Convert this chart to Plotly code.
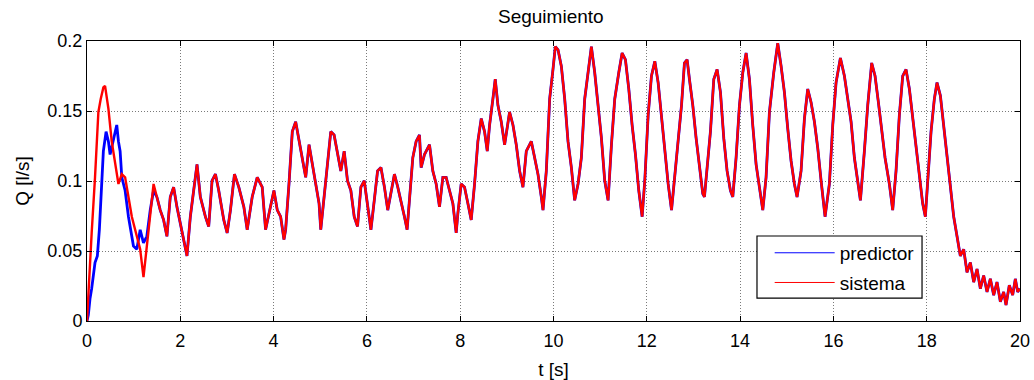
import plotly.graph_objects as go

# --- data ---
# early transient part, where the two series differ (t in s, Q in l/s)
sistema_early_t = [0.0, 0.029, 0.065, 0.100, 0.172, 0.208, 0.244, 0.294, 0.351, 0.387, 0.459, 0.530,
                   0.602, 0.674, 0.746, 0.817, 0.889, 0.961, 1.068, 1.140, 1.211, 1.283, 1.355, 1.427]
sistema_early_q = [0.0, 0.0196, 0.0336, 0.0629, 0.1026, 0.1306, 0.1493, 0.1586, 0.1668, 0.168, 0.1516, 0.1283,
                   0.1119, 0.0979, 0.1049, 0.1026, 0.0886, 0.0745, 0.0605, 0.0512, 0.0313, 0.0535, 0.0745, 0.0979]

predictor_early_t = [0.0, 0.029, 0.065, 0.100, 0.172, 0.222, 0.265, 0.315, 0.351, 0.409, 0.459, 0.495,
                     0.566, 0.638, 0.674, 0.710, 0.746, 0.817, 0.889, 0.996, 1.068, 1.140, 1.211, 1.283,
                     1.355, 1.427]
predictor_early_q = [0.0, 0.0044, 0.0161, 0.0231, 0.0418, 0.0465, 0.0652, 0.0932, 0.1213, 0.1353, 0.1283, 0.1189,
                     0.1306, 0.1400, 0.1283, 0.1213, 0.1026, 0.0932, 0.0745, 0.0535, 0.0512, 0.0652, 0.0558, 0.0605,
                     0.0792, 0.0932]

# part where predictor and sistema overlap
common_t = [1.498, 1.570, 1.642, 1.713, 1.785, 1.857, 1.928, 2.000, 2.072, 2.143, 2.215, 2.323, 2.358, 2.430,
            2.538, 2.609, 2.681, 2.753, 2.824, 2.932, 3.004, 3.075, 3.161, 3.254, 3.362, 3.434, 3.541, 3.649,
            3.756, 3.828, 3.900, 4.007, 4.079, 4.151, 4.222, 4.258, 4.330, 4.401, 4.473, 4.545, 4.616, 4.688,
            4.760, 4.832, 4.903, 4.975, 5.011, 5.082, 5.154, 5.226, 5.297, 5.369, 5.441, 5.513, 5.584, 5.656,
            5.728, 5.799, 5.871, 5.943, 6.014, 6.086, 6.158, 6.229, 6.301,
            6.376, 6.447, 6.519, 6.590, 6.662, 6.733, 6.805, 6.862, 6.912, 6.984, 7.055, 7.127, 7.163, 7.234,
            7.342, 7.413, 7.485, 7.556, 7.628, 7.699, 7.771, 7.843, 7.914, 7.950, 8.021, 8.093, 8.165, 8.236,
            8.308, 8.379, 8.451, 8.522, 8.580, 8.630, 8.701, 8.751, 8.809, 8.880, 8.952, 9.059, 9.131, 9.202,
            9.274, 9.345, 9.417, 9.524, 9.596, 9.667, 9.739, 9.775, 9.846, 9.918, 9.989, 10.039, 10.097, 10.168,
            10.240, 10.311, 10.383, 10.454, 10.526, 10.597, 10.669, 10.741, 10.812, 10.884, 10.955, 11.027,
            11.098, 11.170, 11.242, 11.313, 11.399, 11.471, 11.542, 11.614, 11.685, 11.757, 11.828, 11.900,
            11.957, 12.029, 12.100, 12.172, 12.243, 12.315, 12.386, 12.458, 12.530, 12.601, 12.673, 12.744,
            12.807, 12.864, 12.914, 12.986, 13.057, 13.129, 13.200, 13.236, 13.293, 13.364, 13.436, 13.507,
            13.579, 13.650, 13.721, 13.793, 13.843, 13.914, 13.986, 14.057, 14.129, 14.200, 14.271, 14.343,
            14.414, 14.486, 14.557, 14.629, 14.721, 14.807, 14.879, 14.950, 15.021, 15.093, 15.164, 15.221,
            15.307, 15.379, 15.450, 15.521, 15.593, 15.664, 15.736, 15.821, 15.914, 15.986, 16.057, 16.150,
            16.236, 16.307, 16.379, 16.450, 16.521, 16.579, 16.664, 16.736, 16.821, 16.893, 16.964, 17.036,
            17.107, 17.200, 17.271, 17.343, 17.414, 17.486, 17.557, 17.629, 17.700, 17.771, 17.843, 17.914,
            17.971, 18.021, 18.093, 18.164, 18.221, 18.293, 18.364, 18.436, 18.507, 18.579, 18.650, 18.721,
            18.793, 18.864, 18.936, 19.007, 19.079, 19.150, 19.221, 19.293, 19.364, 19.436, 19.507, 19.579,
            19.650, 19.700, 19.771, 19.843, 19.900, 19.950, 20.0]
common_q = [0.0886, 0.0792, 0.0722, 0.0605, 0.0886, 0.0956, 0.0815, 0.0699, 0.0605, 0.0465, 0.0745, 0.1049,
            0.1119, 0.0886, 0.0745, 0.0675, 0.1002, 0.1049, 0.0932, 0.0722, 0.0629, 0.0792, 0.1049, 0.0956,
            0.0815, 0.0652, 0.0886, 0.1026, 0.0956, 0.0652, 0.0769, 0.0932, 0.0792, 0.0745, 0.0582, 0.0652,
            0.0979, 0.1353, 0.1423, 0.1283, 0.1166, 0.1026, 0.1259, 0.1119, 0.0956, 0.0839, 0.0652, 0.0886,
            0.1119, 0.1353, 0.1329, 0.1189, 0.1072, 0.1213, 0.1002, 0.0932, 0.0745, 0.0675, 0.0956, 0.1002,
            0.0839, 0.0652, 0.0862, 0.1072, 0.1096,
            0.0956, 0.0792, 0.0932, 0.1049, 0.0956, 0.0862, 0.0745, 0.0652, 0.0839, 0.1166, 0.1283, 0.1329,
            0.1096, 0.1189, 0.1259, 0.1072, 0.0979, 0.0815, 0.1026, 0.1026, 0.0932, 0.0839, 0.0629, 0.0769,
            0.0979, 0.0956, 0.0839, 0.0722, 0.0979, 0.1283, 0.1446, 0.1353, 0.1213, 0.1400, 0.1586, 0.1727,
            0.1540, 0.1423, 0.1259, 0.1493, 0.1400, 0.1259, 0.1072, 0.0956, 0.1213, 0.1283, 0.1166, 0.1049,
            0.0886, 0.0792, 0.1072, 0.1586, 0.1797, 0.1960, 0.1937, 0.1820, 0.1586, 0.1283, 0.1096, 0.0862,
            0.0979, 0.1166, 0.1586, 0.1797, 0.1960, 0.1773, 0.1540, 0.1306, 0.1002, 0.0862, 0.1259, 0.1586,
            0.1773, 0.1914, 0.1867, 0.1657, 0.1400, 0.1189, 0.0932, 0.0745, 0.1002, 0.1470, 0.1750, 0.1855,
            0.1703, 0.1446, 0.1236, 0.0979, 0.0792, 0.1026, 0.1306, 0.1540,
            0.1843, 0.1867, 0.1727, 0.1540, 0.1306, 0.1096, 0.0909, 0.0886, 0.1072, 0.1353, 0.1727, 0.1797,
            0.1633, 0.1306, 0.1072, 0.0932, 0.0886, 0.1166, 0.1540, 0.1773, 0.1914, 0.1727, 0.1400, 0.1119,
            0.0956, 0.0792, 0.1026, 0.1493, 0.1773, 0.1984, 0.1820, 0.1633, 0.1376, 0.1143, 0.0979, 0.0886,
            0.1072, 0.1446, 0.1657, 0.1563, 0.1423, 0.1236, 0.1002, 0.0745, 0.0979, 0.1400, 0.1703, 0.1879,
            0.1750, 0.1586, 0.1423, 0.1166, 0.0979, 0.0862, 0.1213, 0.1540, 0.1843, 0.1750, 0.1563, 0.1353,
            0.1166, 0.0979, 0.0792, 0.1072, 0.1470, 0.1750, 0.1797, 0.1657, 0.1446, 0.1236, 0.1026, 0.0839,
            0.0745, 0.0979, 0.1353, 0.1586, 0.1703, 0.1610, 0.1400, 0.1166, 0.0932, 0.0745, 0.0605, 0.0465,
            0.0512, 0.0348, 0.0418, 0.0278, 0.0371, 0.0231, 0.0325, 0.0208, 0.0301, 0.0185, 0.0278, 0.0138,
            0.0208, 0.0114, 0.0255, 0.0185, 0.0301, 0.0208, 0.0231]

x_ticks = [0, 2, 4, 6, 8, 10, 12, 14, 16, 18, 20]
y_ticks = [0, 0.05, 0.1, 0.15, 0.2]
y_tick_labels = ["0", "0.05", "0.1", "0.15", "0.2"]
series_names = ["predictor", "sistema"]
series_colors = ["#0000ff", "#ff0000"]

predictor_t = predictor_early_t + common_t
predictor_q = predictor_early_q + common_q
sistema_t = sistema_early_t + common_t
sistema_q = sistema_early_q + common_q

FONT = "Liberation Sans, Arial, Helvetica, sans-serif"

fig = go.Figure()
fig.add_trace(go.Scatter(x=predictor_t, y=predictor_q, mode="lines", name=series_names[0],
                         line=dict(color=series_colors[0], width=2.8), showlegend=False))
fig.add_trace(go.Scatter(x=sistema_t, y=sistema_q, mode="lines", name=series_names[1],
                         line=dict(color=series_colors[1], width=2.4), showlegend=False))
# legend entries drawn with thin lines, as in the reference
for nm, col in zip(series_names, series_colors):
    fig.add_trace(go.Scatter(x=[None], y=[None], mode="lines", name=nm, legendgroup=nm,
                             line=dict(color=col, width=1), showlegend=True))

axis_common = dict(showline=True, linecolor="black", linewidth=1, mirror="ticks",
                   ticks="inside", ticklen=5, tickcolor="black", automargin=False,
                   showgrid=True, gridcolor="#7a7a7a", griddash="1px,2px", gridwidth=1,
                   zeroline=False, tickfont=dict(family=FONT, size=18, color="black"))

# legend frame (MATLAB style box)
fig.add_shape(type="rect", xref="paper", yref="paper",
              x0=0.7181, x1=0.895, y0=0.082, y1=0.3036,
              line=dict(color="black", width=1.2), fillcolor="white", layer="above")

fig.update_layout(
    width=1034, height=380,
    paper_bgcolor="white", plot_bgcolor="white",
    margin=dict(l=87, r=14, t=41, b=59),
    title=dict(text="Seguimiento", x=0.5327, xanchor="center", y=0.958, yanchor="middle",
               font=dict(family=FONT, size=19, color="black")),
    xaxis=dict(range=[0, 20], tickvals=x_ticks, ticktext=[str(v) for v in x_ticks],
               ticklabelstandoff=3,
               title=dict(text="t [s]", font=dict(family=FONT, size=19, color="black"), standoff=14),
               **axis_common),
    yaxis=dict(range=[0, 0.2], tickvals=y_ticks, ticktext=y_tick_labels,
               title=dict(text="Q [l/s]", font=dict(family=FONT, size=19, color="black"), standoff=12),
               **axis_common),
    legend=dict(x=0.7317, y=0.311, xanchor="left", yanchor="top",
                bgcolor="rgba(0,0,0,0)", borderwidth=0, itemwidth=60,
                font=dict(family=FONT, size=19, color="black"), tracegroupgap=2),
    showlegend=True,
)

fig.write_html("out.html")
